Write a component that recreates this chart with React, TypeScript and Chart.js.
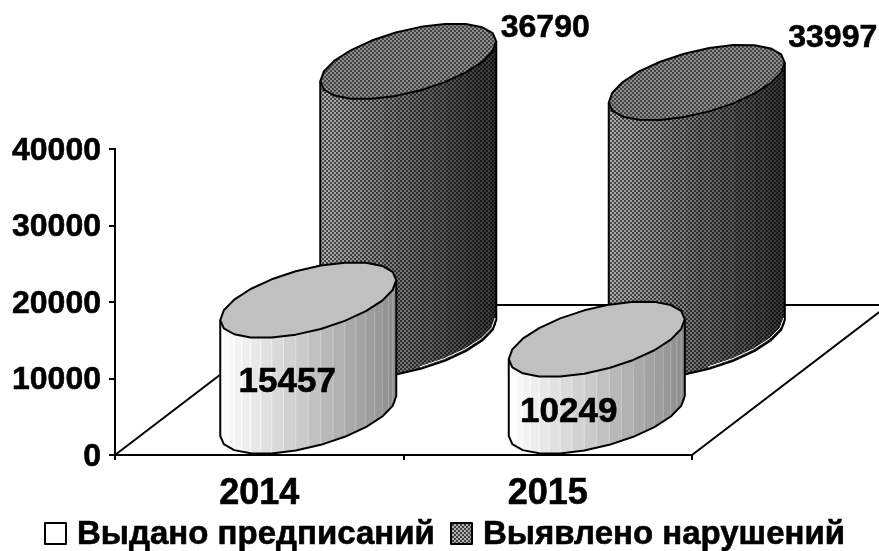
import React, { useEffect, useRef } from "react";
import { Chart, registerables } from "chart.js";

Chart.register(...registerables);

const categories = ["2014", "2015"];
const issuedOrders = [15457, 10249];
const violationsFound = [36790, 33997];
const seriesLabels = ["Выдано предписаний", "Выявлено нарушений"];
const yTicks = [0, 10000, 20000, 30000, 40000];

const FONT = '"Liberation Sans", Arial, sans-serif';
const W = 879;
const H = 551;
const AX_L = 115;
const AX_R = 692;
const AX_T = 149;
const AX_B = 455;
const SLOPE = 0.763;
const BACK_FLOOR_Y = 305;

const cylinderStyle = [
  { dx: 49, depth: 39, foreshorten: 0.98, labelSize: 35, labelOffsets: [[-21, 82], [-28, 73]] },
  { dx: 149, depth: 115, foreshorten: 0.99, labelSize: 32, labelOffsets: [[137, -33], [136, -44]] },
];
const A = 88;
const B = 32;
const C = 20;

function checker(ctx: CanvasRenderingContext2D, light: string, dark: string) {
  const c = document.createElement("canvas");
  c.width = 4;
  c.height = 4;
  const x = c.getContext("2d")!;
  x.fillStyle = light;
  x.fillRect(0, 0, 4, 4);
  x.fillStyle = dark;
  x.fillRect(0, 0, 2, 2);
  x.fillRect(2, 2, 2, 2);
  return ctx.createPattern(c, "repeat")!;
}

function pt(cx: number, cy: number, t: number): [number, number] {
  return [cx + A * Math.cos(t), cy - B * Math.sin(t) - C * Math.cos(t)];
}

function grey(v: number) {
  const g = Math.round(v);
  return `rgb(${g},${g},${g})`;
}

function drawCylinder(ctx: CanvasRenderingContext2D, cx: number, baseY: number, topY: number, front: boolean) {
  const SEG = 11;
  const bands = 22;
  for (let k = 0; k < bands; k++) {
    const t1 = Math.PI + (Math.PI * k) / bands;
    const t2 = Math.PI + (Math.PI * (k + 1)) / bands;
    const p1 = pt(cx, topY, t1);
    const p2 = pt(cx, topY, t2);
    const p3 = pt(cx, baseY, t2);
    const p4 = pt(cx, baseY, t1);
    const f = ((p1[0] + p2[0]) / 2 - (cx - A)) / (2 * A);
    ctx.beginPath();
    ctx.moveTo(p1[0], p1[1]);
    ctx.lineTo(p2[0] + 0.5, p2[1]);
    ctx.lineTo(p3[0] + 0.5, p3[1]);
    ctx.lineTo(p4[0], p4[1]);
    ctx.closePath();
    if (front) {
      ctx.fillStyle = grey(255 - 115 * f);
      ctx.fill();
      ctx.strokeStyle = grey(Math.min(255, 272 - 105 * f));
      ctx.lineWidth = 1;
      ctx.beginPath();
      ctx.moveTo(p1[0], p1[1]);
      ctx.lineTo(p4[0], p4[1]);
      ctx.stroke();
    } else {
      const light = 175 - 125 * f;
      ctx.fillStyle = checker(ctx, grey(light), grey(light * 0.4));
      ctx.fill();
    }
  }
  ctx.strokeStyle = "#000";
  ctx.lineWidth = 2;
  ctx.lineJoin = "round";
  const left = pt(cx, topY, Math.PI);
  const right = pt(cx, topY, 0);
  ctx.beginPath();
  ctx.moveTo(left[0], left[1]);
  for (let s = 0; s <= SEG; s++) {
    const p = pt(cx, baseY, Math.PI + (Math.PI * s) / SEG);
    ctx.lineTo(p[0], p[1]);
  }
  ctx.lineTo(right[0], right[1]);
  ctx.stroke();
  if (!front) {
    ctx.strokeStyle = "#fff";
    ctx.lineWidth = 1;
    ctx.beginPath();
    for (let s = 6; s <= SEG; s++) {
      const p = pt(cx, baseY, Math.PI + (Math.PI * s) / SEG);
      if (s === 6) ctx.moveTo(p[0] - 1, p[1] - 2);
      else ctx.lineTo(p[0] - 1, p[1] - 2);
    }
    ctx.stroke();
    ctx.strokeStyle = "#000";
    ctx.lineWidth = 2;
  }
  ctx.beginPath();
  for (let s = 0; s < SEG * 2; s++) {
    const p = pt(cx, topY, (Math.PI * s) / SEG);
    if (s === 0) ctx.moveTo(p[0], p[1]);
    else ctx.lineTo(p[0], p[1]);
  }
  ctx.closePath();
  ctx.fillStyle = front ? "#c0c0c0" : checker(ctx, "#8c8c8c", "#444444");
  ctx.fill();
  ctx.stroke();
}

function boldText(ctx: CanvasRenderingContext2D, text: string, x: number, y: number) {
  ctx.fillStyle = "#000";
  ctx.strokeStyle = "#000";
  ctx.lineWidth = 0.6;
  ctx.fillText(text, x, y);
  ctx.strokeText(text, x, y);
}

const cylinderPlugin = {
  id: "cylinders",
  afterDatasetsDraw(chart: any) {
    const ctx: CanvasRenderingContext2D = chart.ctx;
    const xs = chart.scales.x;
    const ys = chart.scales.y;
    const zero = ys.getPixelForValue(0);
    ctx.save();
    ctx.strokeStyle = "#000";
    ctx.lineWidth = 2;
    ctx.beginPath();
    const run = (zero - BACK_FLOOR_Y) / SLOPE;
    ctx.moveTo(xs.left, zero);
    ctx.lineTo(xs.left + run, BACK_FLOOR_Y);
    ctx.lineTo(xs.right + run, BACK_FLOOR_Y);
    ctx.lineTo(xs.right, zero);
    ctx.stroke();
    const tops: number[][] = [[], []];
    [1, 0].forEach((di) => {
      const meta = chart.getDatasetMeta(di);
      const st = cylinderStyle[di];
      meta.data.forEach((bar: any, i: number) => {
        const cx = xs.getPixelForValue(i) + st.dx;
        const baseY = zero - st.depth;
        const topY = baseY - (zero - bar.y) * st.foreshorten;
        tops[di][i] = topY;
        drawCylinder(ctx, cx, baseY, topY, di === 0);
      });
    });
    ctx.textAlign = "center";
    ctx.textBaseline = "middle";
    [1, 0].forEach((di) => {
      const st = cylinderStyle[di];
      ctx.font = `bold ${st.labelSize}px ${FONT}`;
      tops[di].forEach((topY, i) => {
        const cx = xs.getPixelForValue(i) + st.dx;
        const [ox, oy] = st.labelOffsets[i];
        boldText(ctx, String(chart.data.datasets[di].data[i]), cx + ox, topY + oy);
      });
    });
    const boxes = [45, 451];
    ctx.textAlign = "left";
    chart.data.datasets.forEach((d: any, di: number) => {
      const bx = boxes[di];
      ctx.fillStyle = di === 0 ? "#fff" : checker(ctx, "#b0b0b0", "#404040");
      ctx.fillRect(bx, 523, 21, 21);
      ctx.strokeStyle = "#000";
      ctx.lineWidth = 2;
      ctx.strokeRect(bx, 523, 21, 21);
      ctx.font = `bold 33px ${FONT}`;
      boldText(ctx, d.label, bx + 32, 535);
    });
    ctx.restore();
  },
};

export default function App() {
  const ref = useRef<HTMLCanvasElement>(null);
  useEffect(() => {
    const chart = new Chart(ref.current!, {
      type: "bar",
      data: {
        labels: categories,
        datasets: [
          { label: seriesLabels[0], data: issuedOrders, backgroundColor: "transparent", borderWidth: 0 },
          { label: seriesLabels[1], data: violationsFound, backgroundColor: "transparent", borderWidth: 0 },
        ],
      },
      options: {
        responsive: false,
        animation: false,
        layout: { padding: { top: AX_T, right: W - AX_R, left: 0, bottom: 0 } },
        plugins: { legend: { display: false }, tooltip: { enabled: false } },
        scales: {
          x: {
            afterFit: (s: any) => {
              s.height = H - AX_B;
            },
            grid: { drawOnChartArea: false, drawTicks: true, tickLength: 5, color: "#000", lineWidth: 2 },
            border: { display: true, color: "#000", width: 2 },
            ticks: {
              color: "#000",
              padding: 12,
              textStrokeColor: "#000",
              textStrokeWidth: 0.6,
              font: { family: FONT, size: 36, weight: "bold" },
              maxRotation: 0,
            },
          },
          y: {
            min: 0,
            max: 40000,
            afterFit: (s: any) => {
              s.width = AX_L;
            },
            afterBuildTicks: (s: any) => {
              s.ticks = yTicks.map((value) => ({ value }));
            },
            grid: { drawOnChartArea: false, drawTicks: true, tickLength: 6, color: "#000", lineWidth: 2 },
            border: { display: true, color: "#000", width: 2 },
            ticks: {
              color: "#000",
              padding: 8,
              autoSkip: false,
              labelOffset: 2,
              textStrokeColor: "#000",
              textStrokeWidth: 0.6,
              font: { family: FONT, size: 32, weight: "bold" },
              callback: (v: any) => String(v),
            },
          },
        },
      },
      plugins: [cylinderPlugin],
    } as any);
    return () => chart.destroy();
  }, []);
  return (
    <canvas
      ref={ref}
      width={W}
      height={H}
      style={{ position: "absolute", left: 0, top: 0, width: W, height: H, display: "block", background: "#fff" }}
    />
  );
}
